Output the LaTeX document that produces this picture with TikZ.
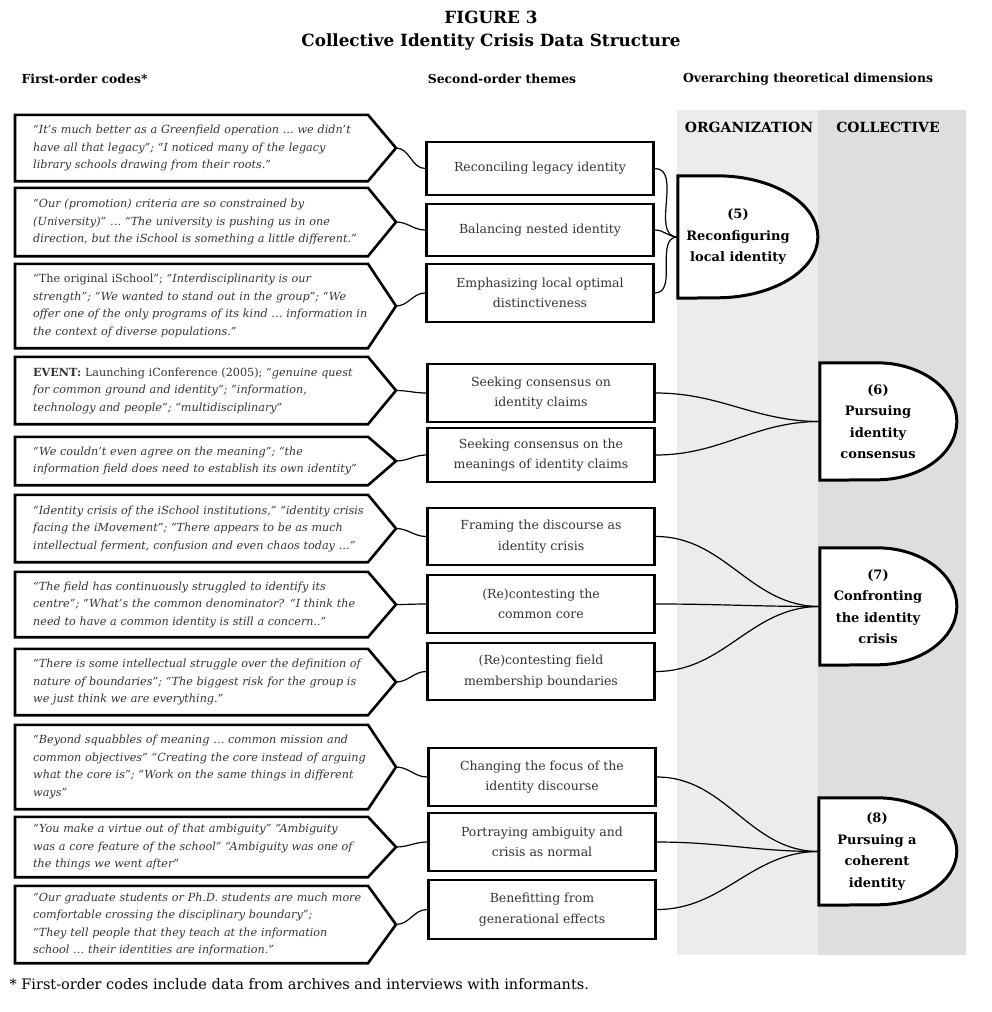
\documentclass[tikz,border=0pt]{standalone}
\usepackage{fontspec}
\setmainfont{DejaVu Serif}
\usepackage{tikz}
\usetikzlibrary{backgrounds}

\definecolor{orgband}{HTML}{ECECEC}
\definecolor{colband}{HTML}{DEDEDE}
\definecolor{quotegray}{HTML}{333333}

\tikzset{
  titletext/.style={font=\fontsize{16.8}{20}\selectfont\bfseries},
  headtext/.style={font=\fontsize{12.4}{15}\selectfont\bfseries},
  bandtext/.style={font=\fontsize{14}{16}\selectfont\bfseries},
  codebox/.style={anchor=west, inner xsep=18pt, inner ysep=0pt, text width=350pt,
    align=left, text=quotegray, font=\fontsize{11.2}{17.5}\selectfont\itshape},
  codeline/.style={line width=2.6pt, line join=miter},
  themebox/.style={draw, line width=2.6pt, minimum width=227pt, align=center,
    text=quotegray, font=\fontsize{12.5}{20.5}\selectfont},
  dimbox/.style={minimum width=116pt, align=center, inner sep=0pt,
    font=\fontsize{13}{21.5}\selectfont\bfseries},
  dimline/.style={draw, fill=white, line width=3pt},
  link/.style={line width=1.2pt}
}

\begin{document}
\begin{tikzpicture}[x=1pt,y=-1pt]
   \useasboundingbox (0,0) rectangle (991,1012);
   \begin{scope}[on background layer]
     \fill[orgband] (677,110) rectangle (818,955);
     \fill[colband] (818,110) rectangle (966,955);
   \end{scope}

   % titles and column heads
   \node[titletext] (fig) at (491,17) {FIGURE 3};
   \node[titletext] (title) at (491,42) {Collective Identity Crisis Data Structure};
   \node[headtext, anchor=west] (first) at (18,79) {First-order codes*};
   \node[headtext] (second) at (502,79) {Second-order themes};
   \node[headtext] (dims) at (808,79) {Overarching theoretical dimensions};
   \node[bandtext] (org) at (749,127) {ORGANIZATION};
   \node[bandtext] (coll) at (888,127) {COLLECTIVE};

   % first-order codes
   \node[codebox, minimum height=66pt] (q1) at (15,148) {“It’s much better as a Greenfield operation \dots\ we didn’t\\have all that legacy”; “I noticed many of the legacy\\library schools drawing from their roots.”};
   \node[codebox, minimum height=68pt] (q2) at (15,222) {“Our (promotion) criteria are so constrained by\\(University)” \dots\ “The university is pushing us in one\\direction, but the iSchool is something a little different.”};
   \node[codebox, minimum height=84pt] (q3) at (15,306) {{\upshape “The original iSchool”;} “Interdisciplinarity is our\\strength”; “We wanted to stand out in the group”; “We\\offer one of the only programs of its kind \dots\ information in\\the context of diverse populations.”};
   \node[codebox, minimum height=67pt] (q4) at (15,390.5) {{\upshape\textbf{EVENT:} Launching iConference (2005);} “genuine quest\\for common ground and identity”; “information,\\technology and people”; “multidisciplinary”};
   \node[codebox, minimum height=48pt] (q5) at (15,461) {“We couldn’t even agree on the meaning”; “the\\information field does need to establish its own identity”};
   \node[codebox, minimum height=67pt] (q6) at (15,528.5) {“Identity crisis of the iSchool institutions,” “identity crisis\\facing the iMovement”; “There appears to be as much\\intellectual ferment, confusion and even chaos today \dots”};
   \node[codebox, minimum height=65pt] (q7) at (15,604.5) {“The field has continuously struggled to identify its\\centre”; “What’s the common denominator? “I think the\\need to have a common identity is still a concern..”};
   \node[codebox, minimum height=66pt] (q8) at (15,682) {“There is some intellectual struggle over the definition of\\nature of boundaries”; “The biggest risk for the group is\\we just think we are everything.”};
   \node[codebox, minimum height=84pt] (q9) at (15,767) {“Beyond squabbles of meaning \dots\ common mission and\\common objectives” “Creating the core instead of arguing\\what the core is”; “Work on the same things in different\\ways”};
   \node[codebox, minimum height=60pt] (q10) at (15,847) {“You make a virtue out of that ambiguity” “Ambiguity\\was a core feature of the school” “Ambiguity was one of\\the things we went after”};
   \node[codebox, minimum height=77pt] (q11) at (15,924.5) {“Our graduate students or Ph.D. students are much more\\comfortable crossing the disciplinary boundary”;\\“They tell people that they teach at the information\\school \dots\ their identities are information.”};

   % second-order themes
   \node[themebox, minimum height=53pt] (s1) at (540,168.5) {Reconciling legacy identity};
   \node[themebox, minimum height=52pt] (s2) at (540,230) {Balancing nested identity};
   \node[themebox, minimum height=58pt] (s3) at (540,293) {Emphasizing local optimal\\distinctiveness};
   \node[themebox, minimum height=58pt] (s4) at (541,393) {Seeking consensus on\\identity claims};
   \node[themebox, minimum height=54pt] (s5) at (541,455) {Seeking consensus on the\\meanings of identity claims};
   \node[themebox, minimum height=57pt] (s6) at (541,536.5) {Framing the discourse as\\identity crisis};
   \node[themebox, minimum height=58pt] (s7) at (541,604) {(Re)contesting the\\common core};
   \node[themebox, minimum height=57pt] (s8) at (541,671.5) {(Re)contesting field\\membership boundaries};
   \node[themebox, minimum height=58pt] (s9) at (542,777) {Changing the focus of the\\identity discourse};
   \node[themebox, minimum height=58pt] (s10) at (542,842) {Portraying ambiguity and\\crisis as normal};
   \node[themebox, minimum height=59pt] (s11) at (542,909.5) {Benefitting from\\generational effects};

   % aggregate dimensions
   \node[dimbox, minimum width=120pt, minimum height=122pt] (d5) at (738,237) {(5)\\Reconfiguring\\local identity};
   \node[dimbox, minimum height=117pt] (d6) at (878,421.5) {(6)\\Pursuing\\identity\\consensus};
   \node[dimbox, minimum height=117pt] (d7) at (878,606.5) {(7)\\Confronting\\the identity\\crisis};
   \node[dimbox, minimum height=107pt] (d8) at (877,851.5) {(8)\\Pursuing a\\coherent\\identity};
   \begin{scope}[on background layer]
     \foreach \d/\f/\rx/\ry in {d5/39/101/61, d6/57/80/58.5, d7/57/80/58.5, d8/58/80/53.5}
       \draw[dimline] (\d.north west) -- ++(\f,0)
         arc[start angle=90, end angle=-90, x radius=\rx pt, y radius=\ry pt]
         -- (\d.south west) -- cycle;
   \end{scope}

   % code outlines and links
   \foreach \i in {1,...,11}{
     \draw[codeline] (q\i.north west) -- ++(353,0) -- ([xshift=381pt]q\i.west) coordinate (t\i)
       -- ([xshift=353pt]q\i.south west) -- (q\i.south west) -- cycle;
     \draw[link] (t\i) to[out=0,in=180] (s\i.west);
   }
   \foreach \s/\d in {s1/d5,s2/d5,s3/d5,s4/d6,s5/d6,s6/d7,s7/d7,s8/d7,s9/d8,s10/d8,s11/d8}
     \draw[link] (\s.east) to[out=0,in=180] (\d.west);

   \node[anchor=west, font=\fontsize{14.5}{17}\selectfont] (note) at (6,984) {* First-order codes include data from archives and interviews with informants.};
\end{tikzpicture}
\end{document}
